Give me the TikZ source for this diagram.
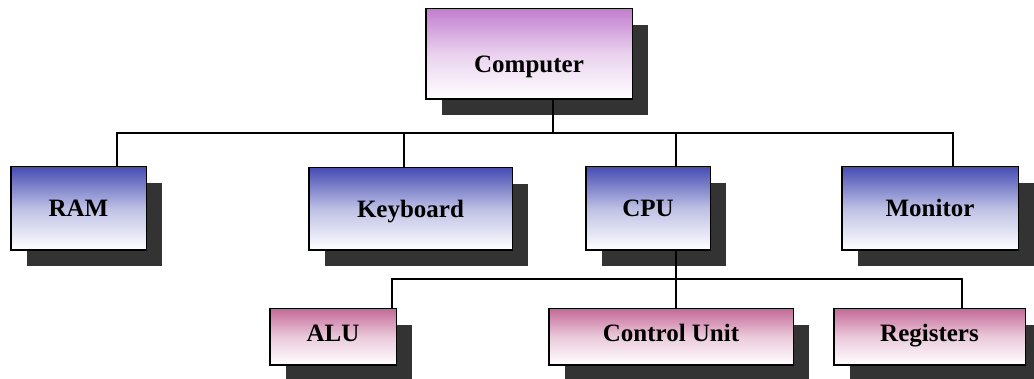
\documentclass[tikz,border=0pt]{standalone}
\usepackage{fontspec}
\setmainfont{Liberation Serif}
\usetikzlibrary{shadows}
\definecolor{topviolet}{RGB}{194,126,206}
\definecolor{midblue}{RGB}{70,76,178}
\definecolor{lowpink}{RGB}{196,106,152}
\definecolor{shadowgray}{RGB}{51,51,51}
\begin{document}
\begin{tikzpicture}[x=1pt,y=-1pt,
    box/.style={draw, line width=1.5pt, inner sep=0pt, bottom color=white,
        text height=16.5pt, text depth=0pt,
        font=\fontsize{25}{30}\selectfont\bfseries,
        general shadow={fill=shadowgray, shadow xshift=16pt, shadow yshift=-16pt}},
    topbox/.style={box, top color=topviolet, middle color=topviolet!35, text height=36.5pt},
    midbox/.style={box, top color=midblue, middle color=midblue!35},
    lowbox/.style={box, top color=lowpink, middle color=lowpink!35, text height=9.5pt},
    wire/.style={line width=1.5pt}]
    \useasboundingbox (0,0) rectangle (1034,379);
    \node[topbox, minimum width=206.5pt, minimum height=90.5pt] (PC) at (529,54) {Computer};
    \node[midbox, minimum width=135.5pt, minimum height=83.5pt] (RAM) at (78.5,208.5) {RAM};
    \node[midbox, minimum width=203.5pt, minimum height=82.5pt] (KB) at (410.5,209) {Keyboard};
    \node[midbox, minimum width=124.5pt, minimum height=83.5pt] (CPU) at (648,208.5) {CPU};
    \node[midbox, minimum width=176.5pt, minimum height=83.5pt] (MON) at (930,208.5) {Monitor};
    \node[lowbox, minimum width=126.5pt, minimum height=56.5pt] (ALU) at (333,337) {ALU};
    \node[lowbox, minimum width=244.5pt, minimum height=56.5pt] (CU) at (671,337) {Control Unit};
    \node[lowbox, minimum width=191.5pt, minimum height=56.5pt] (REG) at (929.5,337) {Registers};

    \draw[wire] ([xshift=24pt]PC.south) -- ++(0,33);
    \draw[wire] ([xshift=38.5pt]RAM.north) -- ++(0,-33) -| ([xshift=23pt]MON.north);
    \draw[wire] ([xshift=-6.5pt]KB.north) -- ++(0,-34);
    \draw[wire] ([xshift=28pt]CPU.north) -- ++(0,-33);
    \draw[wire] ([xshift=28pt]CPU.south) -- ([xshift=5pt]CU.north);
    \draw[wire] ([xshift=59pt]ALU.north) -- ++(0,-29) -| ([xshift=32.5pt]REG.north);
\end{tikzpicture}
\end{document}
